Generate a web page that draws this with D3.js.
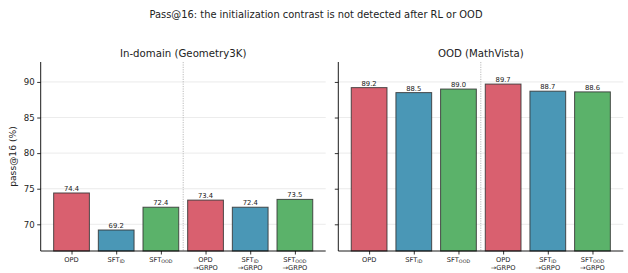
<!DOCTYPE html>
<html>
<head>
<meta charset="utf-8">
<style>
    body { margin: 0; background: #fff; }
    svg text { font-family: "DejaVu Sans", sans-serif; fill: #222; }
</style>
</head>
<body>
<div id="chart"></div>
<script src="https://cdn.jsdelivr.net/npm/d3@7"></script>
<script>
    // data
    var catBase = ["OPD", "SFT", "SFT", "OPD", "SFT", "SFT"];
    var catSub = ["", "ID", "OOD", "", "ID", "OOD"];
    var catLine2 = ["", "", "", "\u2192GRPO", "\u2192GRPO", "\u2192GRPO"];
    var idValues = [74.4, 69.2, 72.4, 73.4, 72.4, 73.5];
    var oodValues = [89.2, 88.5, 89.0, 89.7, 88.7, 88.6];
    var yTicks = [70, 75, 80, 85, 90];
    var panelTitles = ["In-domain (Geometry3K)", "OOD (MathVista)"];
    var barColors = ["#d9606f", "#4a97b6", "#5bb26a"];

    var w = 628, h = 273;
    var plotTop = 62, plotBottom = 251;
    var panels = [
        {left: 40.7, right: 325.7, values: idValues, title: panelTitles[0], labels: true},
        {left: 338.3, right: 623.3, values: oodValues, title: panelTitles[1], labels: false}
    ];

    var svg = d3.select("#chart").append("svg")
        .attr("width", w)
        .attr("height", h);

    svg.append("text")
        .attr("x", 316).attr("y", 18)
        .attr("text-anchor", "middle")
        .attr("font-size", 9.9)
        .text("Pass@16: the initialization contrast is not detected after RL or OOD");

    svg.append("text")
        .attr("transform", "translate(16," + ((plotTop + plotBottom) / 2) + ") rotate(-90)")
        .attr("text-anchor", "middle")
        .attr("font-size", 9.2)
        .text("pass@16 (%)");

    var yScale = d3.scaleLinear().domain([66.25, 92.8]).range([plotBottom, plotTop]);

    panels.forEach(function (p) {
        var xScale = d3.scaleLinear().domain([-0.69, 5.69]).range([p.left, p.right]);
        var bw = xScale(0.4) - xScale(-0.4);
        var g = svg.append("g");

        // grid
        g.selectAll(".grid")
            .data(yTicks)
            .enter()
            .append("line")
            .attr("x1", p.left).attr("x2", p.right)
            .attr("y1", function (d) { return yScale(d); })
            .attr("y2", function (d) { return yScale(d); })
            .attr("stroke", "#e6e6e6")
            .attr("stroke-width", 0.8);

        // separator between base and RL
        g.append("line")
            .attr("x1", xScale(2.5)).attr("x2", xScale(2.5))
            .attr("y1", plotTop).attr("y2", plotBottom)
            .attr("stroke", "#aaa")
            .attr("stroke-width", 0.8)
            .attr("stroke-dasharray", "1.2,1.2");

        // bars
        g.selectAll("rect")
            .data(p.values)
            .enter()
            .append("rect")
            .attr("x", function (d, i) { return xScale(i) - bw / 2; })
            .attr("y", function (d) { return yScale(d); })
            .attr("width", bw)
            .attr("height", function (d) { return plotBottom - yScale(d); })
            .attr("fill", function (d, i) { return barColors[i % 3]; })
            .attr("stroke", "#333")
            .attr("stroke-opacity", 0.85)
            .attr("stroke-width", 1);

        // value labels
        g.selectAll(".val")
            .data(p.values)
            .enter()
            .append("text")
            .attr("x", function (d, i) { return xScale(i); })
            .attr("y", function (d) { return yScale(d) - 2; })
            .attr("text-anchor", "middle")
            .attr("font-size", 6.8)
            .text(function (d) { return d.toFixed(1); });

        // y axis
        var yAxis = d3.axisLeft(yScale).tickValues(yTicks).tickSize(3.5).tickPadding(2.5);
        if (!p.labels) yAxis.tickFormat("");
        var ya = g.append("g")
            .attr("transform", "translate(" + p.left + ",0)")
            .call(yAxis);
        ya.select(".domain").attr("d", "M0," + plotTop + "V" + plotBottom).attr("stroke", "#000").attr("stroke-width", 0.9);
        ya.selectAll(".tick line").attr("stroke", "#000").attr("stroke-width", 0.8);
        ya.selectAll(".tick text").attr("font-size", 8.6).attr("font-family", "DejaVu Sans").attr("fill", "#222");

        // x axis
        var xAxis = d3.axisBottom(xScale).tickValues(d3.range(6)).tickSize(3.5).tickFormat("");
        var xa = g.append("g")
            .attr("transform", "translate(0," + plotBottom + ")")
            .call(xAxis);
        xa.select(".domain").attr("d", "M" + p.left + ",0H" + p.right).attr("stroke", "#000").attr("stroke-width", 0.9);
        xa.selectAll(".tick line").attr("stroke", "#000").attr("stroke-width", 0.8);

        // category labels
        var cl = g.selectAll(".cat")
            .data(catBase)
            .enter()
            .append("text")
            .attr("x", function (d, i) { return xScale(i); })
            .attr("y", 261.5)
            .attr("text-anchor", "middle")
            .attr("font-size", 6.7);
        cl.append("tspan").text(function (d) { return d; });
        cl.append("tspan")
            .attr("font-size", 4.8)
            .attr("dy", 1)
            .text(function (d, i) { return catSub[i]; });
        g.selectAll(".cat2")
            .data(catLine2)
            .enter()
            .append("text")
            .attr("x", function (d, i) { return xScale(i); })
            .attr("y", 269.5)
            .attr("text-anchor", "middle")
            .attr("font-size", 6.7)
            .text(function (d) { return d; });

        svg.append("text")
            .attr("x", (p.left + p.right) / 2).attr("y", 57)
            .attr("text-anchor", "middle")
            .attr("font-size", 10.2)
            .text(p.title);
    });
</script>
</body>
</html>
